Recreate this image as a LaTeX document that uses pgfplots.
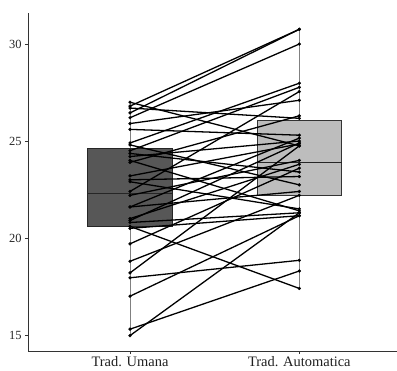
\documentclass[border=0pt]{standalone}
\usepackage{fontspec}
\setmainfont{Liberation Serif}
\usepackage{pgfplots}
\pgfplotsset{compat=1.18}
\definecolor{boxdark}{HTML}{575757}
\definecolor{boxlight}{HTML}{BDBDBD}
\definecolor{axgray}{HTML}{333333}
\tikzset{pair/.style={black, line width=1.3pt, mark=*, mark size=1.5pt, mark options={fill=black, draw=black, line width=0.3pt}}}
\begin{document}
\begin{tikzpicture}[x=1bp,y=1bp]
\useasboundingbox (0,0) rectangle (397,371);
\begin{axis}[
  at={(28bp,20bp)}, anchor=origin,
  scale only axis,
  width=369bp, height=338bp,
  xmin=0.3975, xmax=2.577,
  ymin=14.175, ymax=31.6,
  axis x line*=bottom, axis y line*=left,
  axis line style={axgray, line width=0.7pt},
  xtick={1,2}, xticklabels={Trad. Umana, Trad. Automatica},
  ytick={15,20,25,30},
  tick style={axgray, line width=0.7pt},
  tick align=outside, major tick length=3bp,
  xticklabel style={font=\fontsize{14.5}{16}\selectfont, text=black!88, yshift=1bp},
  yticklabel style={font=\fontsize{12.5}{14}\selectfont, text=black!85},
  /pgf/number format/assume math mode=true,
  clip=false,
]
% whiskers
\addplot[gray, line width=0.9pt] coordinates {(1,14.97) (1,27.0)};
\addplot[gray, line width=0.9pt] coordinates {(2,17.4) (2,30.76)};
% boxes
\addplot[fill=boxdark, draw=black!85, line width=0.7pt] coordinates {(0.75,20.58) (1.25,20.58) (1.25,24.6) (0.75,24.6)} --cycle;
\addplot[black!85, line width=0.9pt] coordinates {(0.75,22.31) (1.25,22.31)};
\addplot[fill=boxlight, draw=black!80, line width=0.7pt] coordinates {(1.75,22.2) (2.25,22.2) (2.25,26.07) (1.75,26.07)} --cycle;
\addplot[black!85, line width=0.9pt] coordinates {(1.75,23.88) (2.25,23.88)};
% paired lines
\addplot[pair] coordinates {(1,27.0) (2,24.75)};
\addplot[pair] coordinates {(1,26.8) (2,30.76)};
\addplot[pair] coordinates {(1,26.7) (2,26.17)};
\addplot[pair] coordinates {(1,26.45) (2,30.76)};
\addplot[pair] coordinates {(1,26.2) (2,30.0)};
\addplot[pair] coordinates {(1,25.9) (2,27.1)};
\addplot[pair] coordinates {(1,25.6) (2,25.3)};
\addplot[pair] coordinates {(1,24.9) (2,27.98)};
\addplot[pair] coordinates {(1,24.8) (2,22.74)};
\addplot[pair] coordinates {(1,24.5) (2,27.77)};
\addplot[pair] coordinates {(1,24.36) (2,23.4)};
\addplot[pair] coordinates {(1,24.2) (2,25.0)};
\addplot[pair] coordinates {(1,24.0) (2,21.4)};
\addplot[pair] coordinates {(1,23.9) (2,26.3)};
\addplot[pair] coordinates {(1,23.2) (2,24.85)};
\addplot[pair] coordinates {(1,23.0) (2,23.17)};
\addplot[pair] coordinates {(1,22.9) (2,21.5)};
\addplot[pair] coordinates {(1,22.4) (2,27.55)};
\addplot[pair] coordinates {(1,22.2) (2,24.0)};
\addplot[pair] coordinates {(1,21.6) (2,25.15)};
\addplot[pair] coordinates {(1,21.6) (2,22.4)};
\addplot[pair] coordinates {(1,21.0) (2,23.8)};
\addplot[pair] coordinates {(1,20.9) (2,24.9)};
\addplot[pair] coordinates {(1,20.8) (2,21.3)};
\addplot[pair] coordinates {(1,20.6) (2,17.4)};
\addplot[pair] coordinates {(1,20.5) (2,21.15)};
\addplot[pair] coordinates {(1,19.7) (2,23.6)};
\addplot[pair] coordinates {(1,18.8) (2,22.2)};
\addplot[pair] coordinates {(1,18.2) (2,24.75)};
\addplot[pair] coordinates {(1,17.95) (2,18.85)};
\addplot[pair] coordinates {(1,17.0) (2,21.15)};
\addplot[pair] coordinates {(1,15.3) (2,18.3)};
\addplot[pair] coordinates {(1,14.97) (2,21.3)};
\end{axis}
\end{tikzpicture}
\end{document}
